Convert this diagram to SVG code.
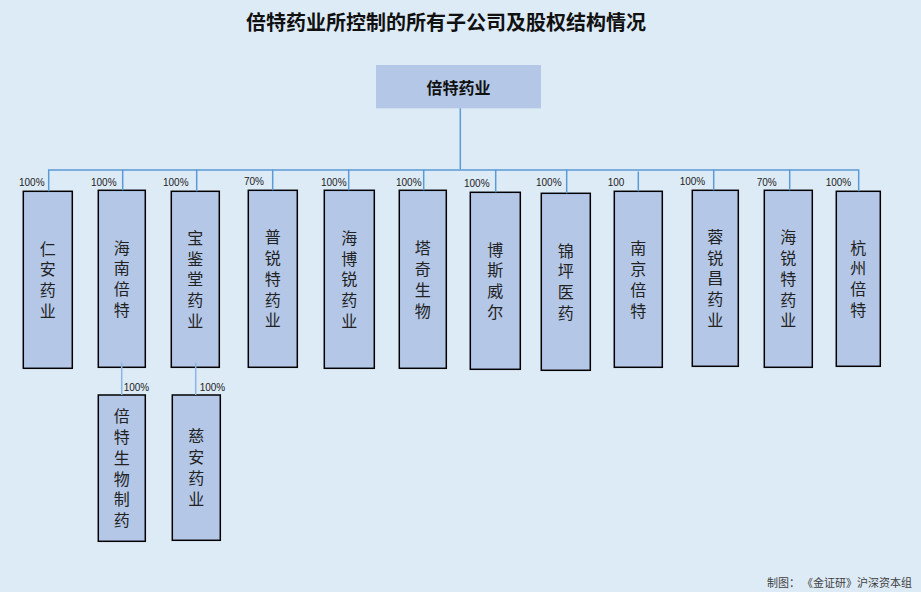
<svg xmlns="http://www.w3.org/2000/svg" width="921" height="592" viewBox="0 0 921 592">
<style>
.bg{fill:#DDEBF7}
.box{fill:#B4C7E7;stroke:#000;stroke-width:1.5}
.root{fill:#B4C7E7}
.t{font-family:"Noto Sans CJK SC","Liberation Sans",sans-serif;font-size:16px;fill:#222;text-anchor:middle;writing-mode:vertical-rl;letter-spacing:4.8px}
.title{font-family:"Noto Sans CJK SC","Liberation Sans",sans-serif;font-size:20px;font-weight:bold;fill:#111;text-anchor:middle}
.rt{font-family:"Noto Sans CJK SC","Liberation Sans",sans-serif;font-size:16px;font-weight:bold;fill:#111;text-anchor:middle}
.pct{font-family:"Liberation Sans","Noto Sans",sans-serif;font-size:10px;fill:#222}
.foot{font-family:"Noto Sans CJK SC","Liberation Sans",sans-serif;font-size:11px;fill:#404040}
.c{fill:none;stroke:#5B9BD5;stroke-width:1.5}
.c2{fill:none;stroke:#8DB4E2;stroke-width:1.5}
</style>
<rect class="bg" x="0" y="0" width="921" height="592"/>
<text class="title" x="446" y="29.5">倍特药业所控制的所有子公司及股权结构情况</text>

<g id="nodes">
<g id="n-root"><rect class="root" x="376" y="65" width="165" height="43.3"/><text class="rt" x="458.5" y="94">倍特药业</text></g>

<g id="n1"><rect class="box" x="23.3" y="191.3" width="49" height="177"/><text class="t" x="47.8" y="282.2">仁安药业</text></g>
<g id="n2"><rect class="box" x="98.3" y="190.3" width="47" height="177"/><text class="t" x="121.8" y="281.2">海南倍特</text></g>
<g id="n3"><rect class="box" x="171.3" y="191.3" width="48" height="176"/><text class="t" x="195.3" y="281.7">宝鉴堂药业</text></g>
<g id="n4"><rect class="box" x="248.3" y="190.3" width="49" height="177"/><text class="t" x="272.8" y="281.2">普锐特药业</text></g>
<g id="n5"><rect class="box" x="324.3" y="190.3" width="50" height="178"/><text class="t" x="349.3" y="281.7">海博锐药业</text></g>
<g id="n6"><rect class="box" x="399.3" y="190.3" width="47" height="178"/><text class="t" x="422.8" y="281.7">塔奇生物</text></g>
<g id="n7"><rect class="box" x="470.3" y="192.3" width="50" height="177"/><text class="t" x="495.3" y="283.2">博斯威尔</text></g>
<g id="n8"><rect class="box" x="541.3" y="193.3" width="49" height="177"/><text class="t" x="565.8" y="284.2">锦坪医药</text></g>
<g id="n9"><rect class="box" x="614.3" y="191.3" width="48" height="176"/><text class="t" x="638.3" y="281.7">南京倍特</text></g>
<g id="n10"><rect class="box" x="692.3" y="190.3" width="46" height="176"/><text class="t" x="715.3" y="280.7">蓉锐昌药业</text></g>
<g id="n11"><rect class="box" x="764.3" y="190.3" width="48" height="177"/><text class="t" x="788.3" y="281.2">海锐特药业</text></g>
<g id="n12"><rect class="box" x="836.3" y="191.3" width="44" height="175"/><text class="t" x="858.3" y="281.2">杭州倍特</text></g>
<g id="n13"><rect class="box" x="98.3" y="395" width="47" height="146.3"/><text class="t" x="121.8" y="470.5">倍特生物制药</text></g>
<g id="n14"><rect class="box" x="172.3" y="395" width="48" height="145.3"/><text class="t" x="196.3" y="470">慈安药业</text></g>
</g>

<g id="connectors">
<path class="c" d="M460.3,108.3 V169.5"/>
<path class="c" d="M48.7,191.3 V170 H858.7 V191.3"/>
<path class="c" d="M122.7,169.5 V190.3"/>
<path class="c" d="M196.7,169.5 V191.3"/>
<path class="c" d="M272.7,169.5 V190.3"/>
<path class="c" d="M348.7,169.5 V190.3"/>
<path class="c" d="M423.7,169.5 V190.3"/>
<path class="c" d="M495.7,169.5 V192.3"/>
<path class="c" d="M566.7,169.5 V193.3"/>
<path class="c" d="M638.3,171.5 V191.3"/>
<path class="c" d="M713.7,169.5 V190.3"/>
<path class="c" d="M789.7,169.5 V190.3"/>
<path class="c2" d="M121.7,362.7 V395"/>
<path class="c2" d="M195.7,362.7 V395"/>
</g>

<g id="labels">
<text class="pct" x="19" y="185.5">100%</text>
<text class="pct" x="91" y="186">100%</text>
<text class="pct" x="163" y="186">100%</text>
<text class="pct" x="244" y="185">70%</text>
<text class="pct" x="321" y="186">100%</text>
<text class="pct" x="396" y="186">100%</text>
<text class="pct" x="464" y="186.5">100%</text>
<text class="pct" x="536" y="186">100%</text>
<text class="pct" x="607.7" y="186">100</text>
<text class="pct" x="679.7" y="185">100%</text>
<text class="pct" x="756.7" y="185.5">70%</text>
<text class="pct" x="825.7" y="185.5">100%</text>
<text class="pct" x="123.7" y="390.5">100%</text>
<text class="pct" x="199.7" y="390.5">100%</text>
</g>

<text class="foot" x="767" y="586.5">制图：</text>
<text class="foot" x="912" y="586.5" text-anchor="end">《金证研》沪深资本组</text>
</svg>
